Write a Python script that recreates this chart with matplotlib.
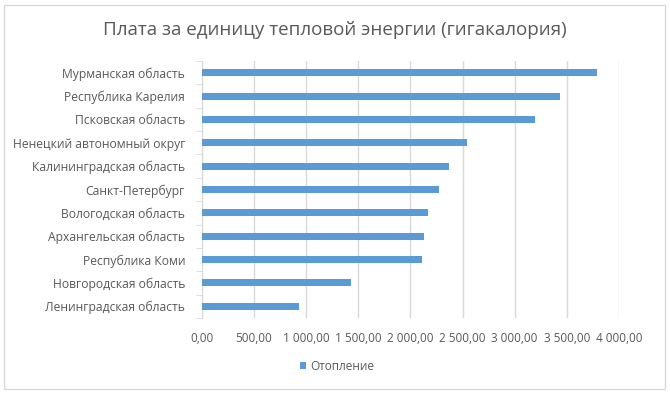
import matplotlib
matplotlib.use("Agg")
import matplotlib.pyplot as plt
from matplotlib.patches import Rectangle
from matplotlib.ticker import FuncFormatter

regions = ["Мурманская область", "Республика Карелия", "Псковская область",
           "Ненецкий автономный округ", "Калининградская область", "Санкт-Петербург",
           "Вологодская область", "Архангельская область", "Республика Коми",
           "Новгородская область", "Ленинградская область"]
values = [3790, 3434, 3195, 2540, 2367, 2278, 2169, 2134, 2112, 1431, 933]
series_name = "Отопление"
xticks = [0, 500, 1000, 1500, 2000, 2500, 3000, 3500, 4000]

plt.rcParams['font.family'] = ['Open Sans', 'DejaVu Sans']
txt = '#595959'
fig = plt.figure(figsize=(6.7, 3.94), dpi=100)
fig.patches.append(Rectangle((4/670, 5/394), 661/670, 384/394, transform=fig.transFigure,
                             fill=False, edgecolor='#d9d9d9', linewidth=1))
ax = fig.add_axes([201.7/670, 1-318/394, (619-201.7)/670, (318-61)/394])

n = len(regions)
ypos = list(range(n))[::-1]
ax.barh(ypos, values, height=0.3, color='#5b9bd5', label=series_name, zorder=3)
ax.set_ylim(-0.5, n-0.5)
ax.set_xlim(0, 4000)
ax.set_xticks(xticks)
ax.xaxis.set_major_formatter(FuncFormatter(lambda v, p: f"{v:,.2f}".replace(",", " ").replace(".", ",")))
ax.set_yticks(ypos)
ax.set_yticklabels(regions)
ax.grid(axis='x', color='#d9d9d9', linewidth=1, zorder=0)
for s in ['top', 'right', 'bottom']:
    ax.spines[s].set_visible(False)
ax.spines['left'].set_color('#d9d9d9')
ax.tick_params(axis='x', length=0, labelsize=8.5, labelcolor=txt, pad=10)
ax.tick_params(axis='y', length=0, labelsize=8.7, labelcolor=txt, pad=12)
# category separator ticks
ax.set_yticks([i - 0.5 for i in range(n + 1)], minor=True)
ax.tick_params(axis='y', which='minor', length=4, color='#d9d9d9')

fig.text(0.5, 1-30/394, "Плата за единицу тепловой энергии (гигакалория)", ha='center', va='center',
         fontsize=13.5, color=txt)
fig.legend(loc='center', bbox_to_anchor=(337/670, 1-366/394), frameon=False, fontsize=8.5,
           labelcolor=txt, handlelength=0.5, handleheight=0.5, handletextpad=0.4)
fig.savefig("out.png", dpi=100)
